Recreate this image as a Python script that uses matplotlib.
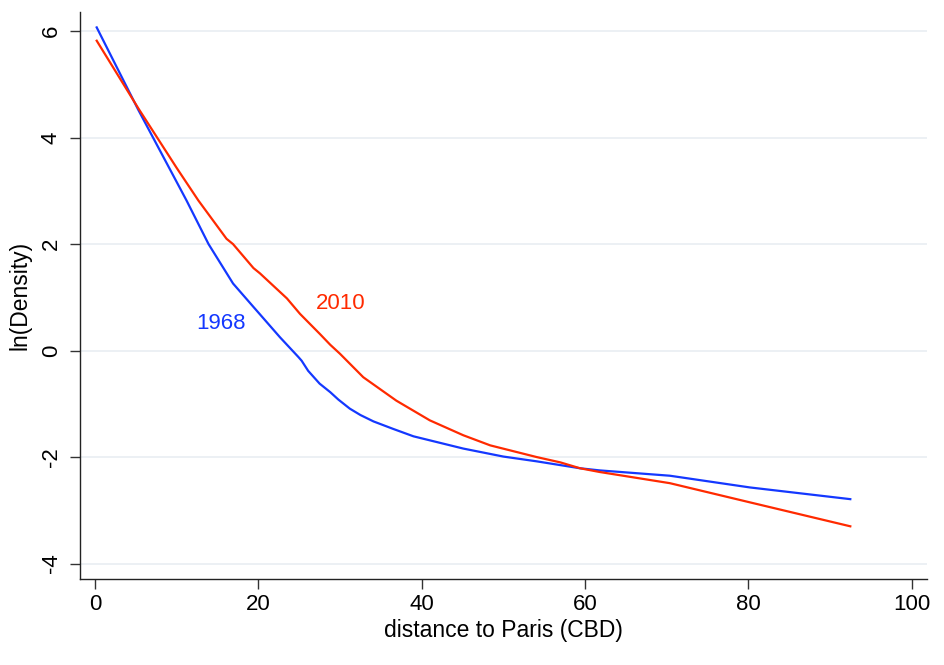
import matplotlib
matplotlib.use("Agg")
import matplotlib.pyplot as plt

plt.rcParams["font.family"] = ["Liberation Sans", "DejaVu Sans"]

# density gradients
dist_1968 = [0.2, 5.3, 11.2, 13.9, 16.9, 19.4, 20.2, 22.65, 24.9, 25.3, 26.1,
             27.5, 28.8, 29.8, 31.2, 32.5, 34.1, 36.5, 39.0, 45.1, 50, 54.1,
             59.4, 61.8, 70.4, 80.2, 92.5]
lnd_1968 = [6.07, 4.52, 2.82, 2.0, 1.26, 0.82, 0.68, 0.25, -0.12, -0.19, -0.38,
            -0.62, -0.78, -0.92, -1.09, -1.21, -1.33, -1.47, -1.61, -1.84,
            -1.99, -2.08, -2.21, -2.25, -2.35, -2.57, -2.79]

dist_2010 = [0.2, 5.3, 10, 12.65, 16.1, 16.9, 19.4, 20.2, 23.5, 25.1, 27.55,
             28.8, 30, 32.85, 36.9, 41.0, 45.1, 48.4, 54.1, 57, 59.4, 61.8,
             70.4, 80.2, 92.5]
lnd_2010 = [5.82, 4.55, 3.43, 2.82, 2.10, 2.0, 1.55, 1.45, 0.98, 0.69, 0.31,
            0.11, -0.06, -0.50, -0.94, -1.31, -1.59, -1.78, -2.0, -2.10, -2.21,
            -2.28, -2.49, -2.85, -3.30]

xticks = [0, 20, 40, 60, 80, 100]
yticks = [-4, -2, 0, 2, 4, 6]

blue = "#1438ff"
red = "#ff2a00"

fig = plt.figure(figsize=(9.45, 6.65), dpi=100)
ax = fig.add_axes([0.0847, 0.1293, 0.8963, 0.8527])

ax.plot(dist_1968, lnd_1968, color=blue, lw=1.6)
ax.plot(dist_2010, lnd_2010, color=red, lw=1.6)

ax.text(15.4, 0.51, "1968", color=blue, fontsize=16, ha="center", va="center")
ax.text(30.1, 0.89, "2010", color=red, fontsize=16, ha="center", va="center")

ax.set_xlim(-1.84, 101.9)
ax.set_ylim(-4.29, 6.36)
ax.set_xticks(xticks)
ax.set_yticks(yticks)
ax.set_yticklabels([str(t) for t in yticks], rotation=90, va="center")

# light horizontal grid only
ax.grid(axis="y", color="#eaeff3", lw=1.3)
ax.set_axisbelow(True)

for s in ["top", "right"]:
    ax.spines[s].set_visible(False)
for s in ["left", "bottom"]:
    ax.spines[s].set_linewidth(1.0)
    ax.spines[s].set_color("#222222")

ax.tick_params(axis="both", direction="out", length=7, width=1.0,
               color="#333333", labelsize=16)
ax.tick_params(axis="y", pad=6)
ax.tick_params(axis="x", pad=4)

ax.set_xlabel("distance to Paris (CBD)", fontsize=16.5, labelpad=3)
ax.set_ylabel("ln(Density)", fontsize=16.5, labelpad=7)

fig.savefig("out.png", dpi=100)
